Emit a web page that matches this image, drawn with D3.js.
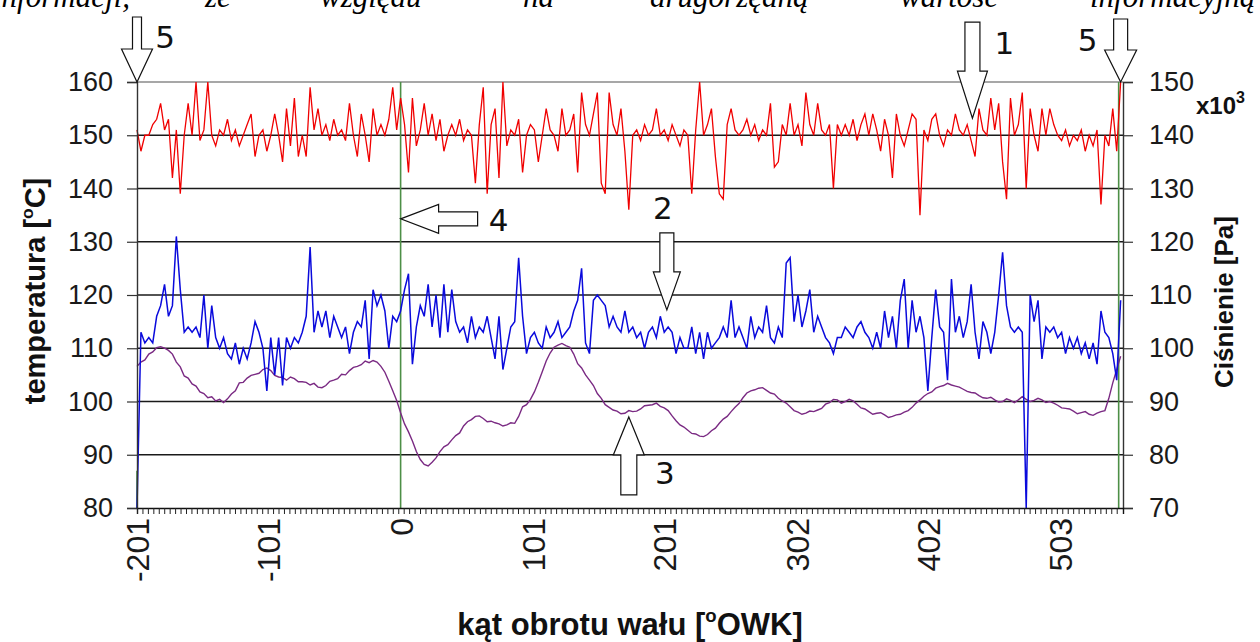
<!DOCTYPE html>
<html>
<head>
<meta charset="utf-8">
<script src="https://cdn.jsdelivr.net/npm/d3@7"></script>
<style>
  body { margin: 0; background: #fff; }
  text { font-family: "Liberation Sans", Arial, sans-serif; }
</style>
</head>
<body>
<div id="chart"></div>
<script>
// angle of the crank shaft [deg], one sample every 3 deg
var angle = d3.range(-201, 550, 3);

// red trace - pressure [x10^3 Pa], right axis
var pressure = [
  141,137,140,140,142,143,146,141,143,132,
  141,129,140,146,140,150,139,141,150,140,
  138,141,140,143,139,141,138,140,142,144,
  136,140,141,137,140,144,140,135,145,138,
  147,136,140,136,149,141,145,140,142,139,
  143,140,141,139,146,140,136,144,140,135,
  145,140,142,140,143,149,141,147,142,133,
  147,138,141,146,140,144,139,143,137,140,
  142,140,143,139,141,140,131,142,149,129,
  142,145,132,150,138,141,140,143,133,140,
  142,141,135,140,145,141,140,137,145,140,
  141,144,133,148,142,140,144,148,131,129,
  148,142,140,145,137,126,140,141,139,142,
  140,141,145,140,141,139,142,140,138,141,
  140,129,141,150,140,142,145,136,129,128,
  142,145,141,140,141,143,140,142,139,141,
  140,146,134,135,142,140,146,140,142,138,
  148,142,140,146,141,140,142,130,142,140,
  142,140,143,139,142,144,140,144,141,137,
  143,140,132,144,140,138,141,144,143,125,
  141,139,143,144,140,138,141,140,144,141,
  140,142,139,136,145,141,140,147,141,146,
  135,128,147,140,142,148,130,145,140,137,
  145,140,145,142,140,139,141,138,140,139,
  141,137,140,138,141,127,140,138,145,137,150
];

// blue trace - temperatura [C], left axis
var tempBlue = [
  80,113,111,112,111,116,118,122,116,118,
  131,121,113,114,113,114,112,120,110,118,
  112,110,112,109,108,111,107,110,108,111,
  115,113,110,102,112,105,112,103,112,110,
  112,111,113,116,129,113,117,114,117,112,
  116,114,112,114,109,113,115,114,119,108,
  121,118,120,117,110,116,115,117,121,124,
  107,114,118,116,122,114,120,112,122,113,
  121,115,113,114,111,116,112,114,113,116,
  112,108,116,106,110,114,115,127,116,109,
  112,113,111,110,114,112,113,115,112,113,
  114,117,119,125,111,109,119,120,119,118,
  114,116,114,113,117,113,114,112,113,110,
  113,114,112,116,113,114,113,109,112,110,
  110,114,109,113,108,113,110,111,112,114,
  112,119,112,114,112,110,116,112,114,113,
  118,112,111,114,112,126,127,115,120,114,
  117,121,113,116,114,112,111,109,112,112,
  114,113,112,114,115,113,112,110,113,110,
  117,112,116,110,119,123,110,119,113,116,
  112,102,112,121,114,113,104,123,113,116,
  112,115,122,113,108,115,113,109,113,120,
  128,118,114,113,114,113,80,120,115,119,
  108,114,113,114,112,113,109,112,110,112,
  109,111,108,111,107,117,113,112,109,104,119
];

// purple trace - temperatura [C], left axis
var tempPurple = [
  106.6,107.4,107.8,108.9,109.3,110.1,110.3,110.0,109.6,108.9,
  107.4,106.5,104.8,104.4,103.3,102.9,101.8,101.5,100.7,100.9,
  100.1,100.4,99.8,100.5,101.4,102.0,103.5,103.6,104.4,104.9,
  105.1,105.3,106.0,106.3,105.8,104.9,104.6,104.5,104.0,104.6,
  104.3,103.7,103.7,103.6,103.1,103.4,102.7,102.6,103.0,103.8,
  104.0,104.3,105.1,105.0,105.8,106.4,106.6,106.9,107.6,107.3,
  107.7,107.4,106.6,105.5,103.8,102.0,100.2,97.9,95.8,94.3,
  92.6,90.6,89.1,88.2,87.9,88.6,89.4,90.6,91.5,91.9,
  92.8,93.6,94.1,95.4,96.2,96.6,97.2,97.3,96.8,96.2,
  96.3,96.0,95.8,95.4,95.6,96.0,95.9,97.2,99.0,99.4,
  100.4,101.8,103.6,105.6,107.6,109.1,110.2,110.6,110.9,110.5,
  110.2,108.9,107.1,106.3,105.0,104.0,103.0,101.5,100.6,99.4,
  98.9,98.4,98.2,97.7,97.8,98.3,98.1,98.2,98.6,99.2,
  99.3,99.4,99.7,99.1,98.8,98.3,97.3,96.4,95.6,95.2,
  94.6,94.0,93.9,93.5,93.4,93.8,94.5,95.0,95.9,96.7,
  97.2,98.1,98.9,99.6,100.7,101.6,102.0,102.2,102.5,102.6,
  102.1,101.6,101.4,100.6,100.1,99.7,99.0,98.3,98.0,97.6,
  97.8,98.2,98.1,98.4,98.7,99.5,99.8,100.4,100.3,99.7,
  100.0,100.4,100.1,99.5,98.8,98.6,98.1,97.6,97.8,97.9,
  97.5,97.0,97.2,97.5,97.6,98.0,98.3,98.9,99.7,100.3,
  101.0,101.5,101.8,102.5,102.8,103.0,103.4,103.1,102.9,102.7,
  102.3,101.9,101.7,101.6,101.1,100.7,100.6,100.8,100.3,99.9,
  100.0,100.5,100.2,99.8,100.3,100.9,100.4,100.0,100.2,100.6,
  100.3,99.8,100.0,99.7,99.3,98.8,98.7,98.6,98.2,97.7,
  97.9,98.1,97.6,97.4,97.8,98.1,98.3,100.6,103.5,106.0,108.5
];

// green marker lines (angle, top in deg C)
var markerAngle = [-201, 0, 547.5];
var markerTop = [87, 160, 160];

var angleTicks = [-201, -101, 0, 101, 201, 302, 402, 503];
var tempTicks = [80, 90, 100, 110, 120, 130, 140, 150, 160];
var pressTicks = [70, 80, 90, 100, 110, 120, 130, 140, 150];

// numbered arrows: label, angle, temperature at the tip, direction
var arrowLabel = ["1", "2", "3", "4", "5", "5"];
var arrowAngle = [436, 203, 174, 0, -201, 549];
var arrowTemp = [153.2, 117.2, 97.1, 134.3, 160, 160];
var arrowDir = ["down", "down", "up", "left", "down", "down"];

// text line of the document above the figure (cut off)
var topWords = ["informacji,", "że", "względu", "na", "drugorzędną", "wartość", "informacyjną"];

var svgWidth = 1260;
var svgHeight = 642;
var margin = {top: 82, right: 137, bottom: 134, left: 137};
var chartWidth = svgWidth - margin.left - margin.right;
var chartHeight = svgHeight - margin.top - margin.bottom;

var svg = d3.select("#chart").append("svg")
    .attr("width", svgWidth)
    .attr("height", svgHeight);

var chartGroup = svg.append("g")
    .attr("transform", `translate(${margin.left},${margin.top})`);

var xScale = d3.scaleLinear().domain([-201, 550.8]).range([0, chartWidth]);
var yLeft = d3.scaleLinear().domain([80, 160]).range([chartHeight, 0]);
var yRight = d3.scaleLinear().domain([70, 150]).range([chartHeight, 0]);

// grid
chartGroup.selectAll("line.grid")
    .data(tempTicks.slice(1))
    .enter().append("line")
    .attr("x1", 0).attr("x2", chartWidth)
    .attr("y1", d => yLeft(d)).attr("y2", d => yLeft(d))
    .attr("stroke", d => d == 160 ? "#8a8a8a" : "#1a1a1a")
    .attr("stroke-width", 1.3);

// green markers
chartGroup.selectAll("line.marker")
    .data(markerAngle)
    .enter().append("line")
    .attr("x1", d => xScale(d)).attr("x2", d => xScale(d))
    .attr("y1", chartHeight)
    .attr("y2", (d, i) => yLeft(markerTop[i]))
    .attr("stroke", "#4d8f46")
    .attr("stroke-width", 1.6);

var leftLine = d3.line()
    .x((d, i) => xScale(angle[i]))
    .y(d => yLeft(d));
var rightLine = d3.line()
    .x((d, i) => xScale(angle[i]))
    .y(d => yRight(d));

chartGroup.append("path").datum(tempPurple)
    .attr("d", leftLine)
    .attr("fill", "none").attr("stroke", "#7a2a83").attr("stroke-width", 1.4);
chartGroup.append("path").datum(tempBlue)
    .attr("d", leftLine)
    .attr("fill", "none").attr("stroke", "#0a0adc").attr("stroke-width", 1.5);
chartGroup.append("path").datum(pressure)
    .attr("d", rightLine)
    .attr("fill", "none").attr("stroke", "#f00000").attr("stroke-width", 1.3);

// axes
var leftAxis = d3.axisLeft(yLeft).tickValues(tempTicks).tickSize(10).tickPadding(14);
var rightAxis = d3.axisRight(yRight).tickValues(pressTicks).tickSize(10).tickPadding(16);

var gl = chartGroup.append("g").call(leftAxis);
var gr = chartGroup.append("g").attr("transform", `translate(${chartWidth},0)`).call(rightAxis);
[gl, gr].forEach(function(g) {
  g.select(".domain").attr("stroke", "#333").attr("stroke-width", 1.4);
  g.selectAll(".tick line").attr("stroke", "#333").attr("stroke-width", 1.2);
  g.selectAll(".tick text")
    .style("font-size", "27px")
    .style("font-family", "'Liberation Sans', Arial, sans-serif")
    .attr("fill", "#1a1a1a");
});

var minorTicks = d3.range(-201, 549, 4.15);
var bottomAxis = d3.axisBottom(xScale).tickValues(minorTicks).tickSize(6).tickFormat("");
var gb = chartGroup.append("g").attr("transform", `translate(0,${chartHeight})`).call(bottomAxis);
gb.select(".domain").attr("stroke", "#111").attr("stroke-width", 1.4);
gb.selectAll(".tick line").attr("stroke", "#222").attr("stroke-width", 1);

var labelAxis = d3.axisBottom(xScale).tickValues(angleTicks).tickSize(0).tickFormat(d => String(d));
var gbl = chartGroup.append("g").attr("transform", `translate(0,${chartHeight})`).call(labelAxis);
gbl.select(".domain").remove();
gbl.selectAll(".tick text")
    .style("font-size", "32px")
    .style("font-family", "'Liberation Sans', Arial, sans-serif")
    .attr("fill", "#1a1a1a")
    .attr("text-anchor", "end")
    .attr("transform", "rotate(-90)")
    .attr("x", -10)
    .attr("y", 0)
    .attr("dy", "0.36em");

// axis titles (degree sign drawn as a raised small "o", like the original)
function titleWithDegree(sel, before, after, size) {
  sel.style("font-size", size + "px").style("font-weight", "bold").attr("fill", "#111");
  sel.append("tspan").text(before);
  sel.append("tspan").attr("dy", -size * 0.42).style("font-size", (size * 0.6) + "px").text("o");
  sel.append("tspan").attr("dy", size * 0.42).text(after);
}

var leftTitle = svg.append("text")
    .attr("transform", "translate(35,291) rotate(-90)")
    .attr("text-anchor", "middle")
    .attr("dy", "0.35em");
titleWithDegree(leftTitle, "temperatura [", "C]", 29);

svg.append("text")
    .attr("transform", "translate(1224,302) rotate(-90)")
    .attr("text-anchor", "middle")
    .attr("dy", "0.35em")
    .style("font-size", "26px").style("font-weight", "bold").attr("fill", "#111")
    .text("Ciśnienie [Pa]");

var xTitle = svg.append("text")
    .attr("x", 630).attr("y", 635)
    .attr("text-anchor", "middle");
titleWithDegree(xTitle, "kąt obrotu wału [", "OWK]", 31);

var mult = svg.append("text")
    .attr("x", 1196).attr("y", 114)
    .style("font-size", "24px").style("font-weight", "bold").attr("fill", "#111");
mult.append("tspan").text("x10");
mult.append("tspan").attr("dy", -11).style("font-size", "16px").text("3");

// block arrows with numbers: [length, shaft width, head width, head length]
var arrowShape = [[96, 15, 30, 47], [77, 14, 27, 38], [78, 16, 31, 38],
                  [77, 14, 29, 38], [65, 9, 31, 33], [63, 14, 32, 32]];
var arrowRot = {down: 0, up: 180, left: 90};
var labelOffset = [[32, -75], [-4, -102], [36, 56], [98, 1], [28, -45], [-33, -42]];

arrowLabel.forEach(function(lab, i) {
  var s = arrowShape[i];
  var len = s[0], sw = s[1] / 2, hw = s[2] / 2, hl = s[3];
  var pts = [[0, 0], [-hw, -hl], [-sw, -hl], [-sw, -len], [sw, -len], [sw, -hl], [hw, -hl]];
  var tx = margin.left + xScale(arrowAngle[i]);
  var ty = margin.top + yLeft(arrowTemp[i]);
  svg.append("path")
      .attr("d", "M" + pts.join("L") + "Z")
      .attr("transform", `translate(${tx},${ty}) rotate(${arrowRot[arrowDir[i]]})`)
      .attr("fill", "#fff")
      .attr("stroke", "#111")
      .attr("stroke-width", 1.2);
  svg.append("text")
      .attr("x", tx + labelOffset[i][0])
      .attr("y", ty + labelOffset[i][1])
      .attr("text-anchor", "middle")
      .attr("dy", "0.36em")
      .style("font-size", "31px")
      .style("font-family", "'DejaVu Sans', sans-serif")
      .attr("fill", "#111")
      .text(lab);
});

// clipped document text at the very top
var wordX = [-7, 205, 320, 523, 650, 900, 1090];
svg.selectAll("text.doc")
    .data(topWords)
    .enter().append("text")
    .attr("x", (d, i) => wordX[i])
    .attr("y", 7)
    .style("font-family", "'Liberation Serif', 'Times New Roman', serif")
    .style("font-style", "italic")
    .style("font-size", "31px")
    .attr("fill", "#000")
    .text(d => d);
</script>
</body>
</html>
